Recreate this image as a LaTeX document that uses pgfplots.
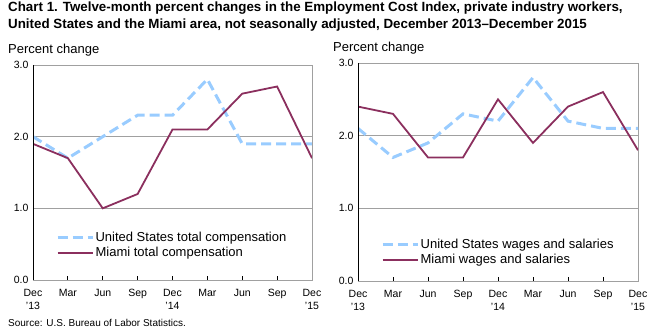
\documentclass[border=0pt]{standalone}
\usepackage{fontspec}
\setmainfont{Liberation Sans}
\usepackage{pgfplots}
\pgfplotsset{compat=1.18}
\definecolor{usblue}{RGB}{153,204,255}
\definecolor{miami}{RGB}{139,47,94}
\definecolor{gridgray}{RGB}{160,160,160}
\pgfplotsset{
  ecichart/.style={
    scale only axis,
    anchor=south west,
    xmin=0, xmax=8, ymin=0, ymax=3,
    xtick={0,...,8},
    xticklabels={Dec\\'13, Mar, Jun, Sep, Dec\\'14, Mar, Jun, Sep, Dec\\'15},
    xticklabel style={align=center, font=\fontsize{10.5bp}{13bp}\selectfont, yshift=-6bp},
    ytick={0,1,2,3},
    yticklabel style={font=\fontsize{10.5bp}{12bp}\selectfont, xshift=-1bp},
    /pgf/number format/.cd, fixed, fixed zerofill, precision=1, assume math mode=true, /pgfplots/.cd,
    axis line style={gridgray},
    ymajorgrids, grid style={gridgray, line width=0.8bp},
    xtick pos=bottom, tick align=inside,
    major tick length=4bp,
    x tick style={black, line width=0.8bp},
    y tick style={draw=none},
    legend cell align=left,
    legend style={draw=none, fill=none, inner sep=0pt, anchor=north west,
      font=\fontsize{13bp}{15bp}\selectfont, row sep=1.5bp,
      nodes={inner sep=1.5bp}},
    legend image code/.code={\draw[##1] (0bp,0bp) -- (35bp,0bp);},
  },
  usline/.style={usblue, line width=3bp, dash pattern=on 10bp off 5bp},
  miline/.style={miami, line width=1.8bp},
}
\begin{document}
\begin{tikzpicture}
\path[use as bounding box] (0bp,0bp) rectangle (659bp,333bp);
\node[anchor=north west, inner sep=0pt, align=left, font=\fontsize{13.35bp}{16.5bp}\selectfont\bfseries] at (8bp,331bp)
  {Chart 1. Twelve-month percent changes in the Employment Cost Index, private industry workers,\\United States and the Miami area, not seasonally adjusted, December 2013--December 2015};
\node[anchor=west, inner sep=0pt, font=\fontsize{13bp}{15bp}\selectfont] at (8bp,283bp) {Percent change};
\node[anchor=west, inner sep=0pt, font=\fontsize{13bp}{15bp}\selectfont] at (333bp,285bp) {Percent change};
\node[anchor=west, inner sep=0pt, font=\fontsize{10bp}{12bp}\selectfont] at (8bp,10bp) {Source: U.S. Bureau of Labor Statistics.};

\begin{axis}[ecichart, at={(33bp,53bp)}, width=279bp, height=215bp,
  legend style={at={(0.082,0.232)}}]
\addplot[usline] coordinates {(0,2.0) (1,1.7) (2,2.0) (3,2.3) (4,2.3) (5,2.8) (6,1.9) (7,1.9) (8,1.9)};
\addlegendentry{United States total compensation}
\addplot[miline] coordinates {(0,1.9) (1,1.7) (2,1.0) (3,1.2) (4,2.1) (5,2.1) (6,2.6) (7,2.7) (8,1.7)};
\addlegendentry{Miami total compensation}
\draw[black, line width=0.8bp] (rel axis cs:0,1) -- (rel axis cs:0,0) -- (rel axis cs:1,0);
\end{axis}

\begin{axis}[ecichart, at={(358bp,52bp)}, width=280bp, height=218bp,
  legend style={at={(0.082,0.20)}}]
\addplot[usline] coordinates {(0,2.1) (1,1.7) (2,1.9) (3,2.3) (4,2.2) (5,2.8) (6,2.2) (7,2.1) (8,2.1)};
\addlegendentry{United States wages and salaries}
\addplot[miline] coordinates {(0,2.4) (1,2.3) (2,1.7) (3,1.7) (4,2.5) (5,1.9) (6,2.4) (7,2.6) (8,1.8)};
\addlegendentry{Miami wages and salaries}
\draw[black, line width=0.8bp] (rel axis cs:0,1) -- (rel axis cs:0,0) -- (rel axis cs:1,0);
\end{axis}
\end{tikzpicture}
\end{document}
